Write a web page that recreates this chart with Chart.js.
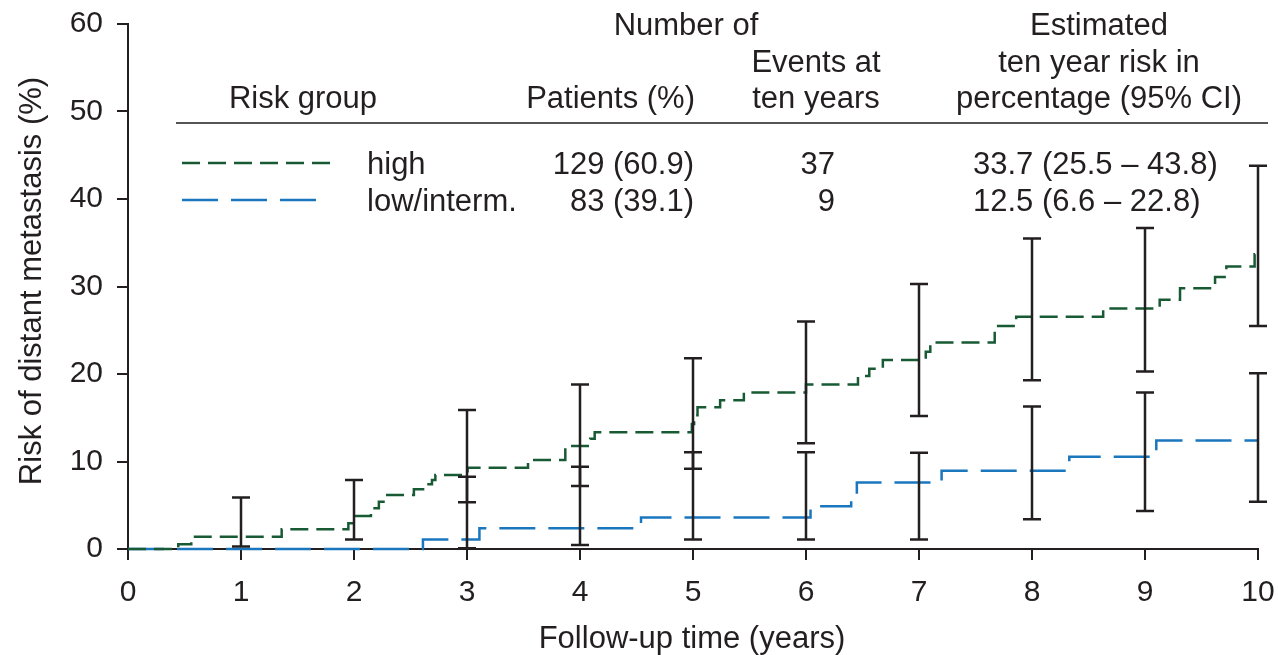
<!DOCTYPE html>
<html>
<head>
<meta charset="utf-8">
<script src="https://cdn.jsdelivr.net/npm/chart.js@4.4.1/dist/chart.umd.min.js"></script>
<style>
  html, body { margin: 0; padding: 0; background: #fff; }
  #wrap { width: 1278px; height: 655px; }
</style>
</head>
<body>
<div id="wrap"><canvas id="chart" width="1278" height="655"></canvas></div>
<script>
// step curves (time of step in years, cumulative risk in %)
const highTimes = [0, 0.445, 0.56, 1.36, 1.95, 2.02, 2.15, 2.22, 2.28, 2.53, 2.64, 2.69, 2.72, 3.005, 3.54, 3.87, 4.09, 4.13, 4.99, 5.01, 5.04, 5.24, 5.45, 6.0, 6.46, 6.56, 6.68, 7.06, 7.1, 7.67, 7.86, 8.63, 9.13, 9.31, 9.62, 9.72, 9.97, 10];
const highRisk  = [0, 0.53, 1.4, 2.25, 2.93, 3.77, 4.65, 5.4, 6.17, 6.82, 7.4, 7.9, 8.46, 9.3, 10.17, 11.77, 12.6, 13.33, 14.3, 15.3, 16.2, 17.0, 17.9, 18.8, 19.77, 20.6, 21.6, 22.55, 23.6, 25.5, 26.55, 27.5, 28.5, 29.8, 31.1, 32.3, 33.7, 33.7];

const lowTimes = [0, 2.61, 3.11, 4.54, 6.04, 6.40, 6.45, 7.2, 8.33, 9.1, 10];
const lowRisk  = [0, 1.1, 2.36, 3.6, 4.9, 6.17, 7.6, 8.95, 10.55, 12.4, 12.4];

// 95% CI bars at whole years
const ciYears   = [1, 2, 3, 4, 5, 6, 7, 8, 9, 10];
const highLower = [0.3, 1.1, 5.33, 7.2, 9.18, 12.1, 15.2, 19.3, 20.3, 25.5];
const highUpper = [5.9, 7.9, 15.9, 18.8, 21.8, 26.0, 30.3, 35.5, 36.7, 43.8];
const lowLower  = [null, null, 0.1, 0.46, 1.1, 1.1, 1.1, 3.4, 4.34, 5.4];
const lowUpper  = [null, null, 8.26, 9.4, 11.05, 11.05, 11.0, 16.3, 17.9, 20.1];

const xTicks = [0, 1, 2, 3, 4, 5, 6, 7, 8, 9, 10];
const yTicks = [0, 10, 20, 30, 40, 50, 60];

// table next to the curves
const groups   = ["high", "low/interm."];
const patients = ["129 (60.9)", "83 (39.1)"];
const events   = ["37", "9"];
const tenYear  = ["33.7 (25.5 \u2013 43.8)", "12.5 (6.6 \u2013 22.8)"];

const INK = "#231f20";
const GREEN = "#175a34";
const BLUE = "#1a76bd";
const FONT = "'Liberation Sans', Arial, Helvetica, sans-serif";

function pts(xs, ys){
  return xs.map((x, i) => ({x: x, y: ys[i]}));
}

function txt(ctx, s, x, y, align){
  ctx.textAlign = align;
  ctx.fillText(s, x, y);
}

const ciPlugin = {
  id: "ci",
  afterDatasetsDraw(chart){
    const ctx = chart.ctx, xs = chart.scales.x, ys = chart.scales.y;
    ctx.save();
    ctx.strokeStyle = INK;
    ctx.lineWidth = 2.5;
    ctx.setLineDash([]);
    const bar = (t, lo, hi) => {
      if (lo == null || hi == null) return;
      const x = xs.getPixelForValue(t), y1 = ys.getPixelForValue(lo), y2 = ys.getPixelForValue(hi);
      ctx.beginPath();
      ctx.moveTo(x, y1); ctx.lineTo(x, y2);
      ctx.moveTo(x - 9, y1); ctx.lineTo(x + 9, y1);
      ctx.moveTo(x - 9, y2); ctx.lineTo(x + 9, y2);
      ctx.stroke();
    };
    ciYears.forEach((t, i) => {
      bar(t, highLower[i], highUpper[i]);
      bar(t, lowLower[i], lowUpper[i]);
    });
    ctx.restore();
  },
  afterDraw(chart){
    const ctx = chart.ctx;
    ctx.save();
    ctx.fillStyle = INK;
    ctx.font = "31px " + FONT;
    ctx.textBaseline = "alphabetic";

    // header
    txt(ctx, "Number of", 686, 35, "center");
    txt(ctx, "Estimated", 1099, 35, "center");
    txt(ctx, "Events at", 816, 72, "center");
    txt(ctx, "ten year risk in", 1099, 72, "center");
    txt(ctx, "Risk group", 303, 108, "center");
    txt(ctx, "Patients (%)", 695, 108, "right");
    txt(ctx, "ten years", 816, 108, "center");
    txt(ctx, "percentage (95% CI)", 1099, 108, "center");

    ctx.strokeStyle = "#555";
    ctx.lineWidth = 2;
    ctx.beginPath();
    ctx.moveTo(176, 123); ctx.lineTo(1268, 123);
    ctx.stroke();

    // rows
    const rowY = [174, 211];
    const lineY = [163, 200];
    const cols = [GREEN, BLUE];
    const dashes = [[18, 8], [36, 13]];
    const lineEnd = [332, 318];
    groups.forEach((g, i) => {
      ctx.strokeStyle = cols[i];
      ctx.lineWidth = 2.5;
      ctx.setLineDash(dashes[i]);
      ctx.beginPath();
      ctx.moveTo(182, lineY[i]); ctx.lineTo(lineEnd[i], lineY[i]);
      ctx.stroke();
      ctx.setLineDash([]);
      txt(ctx, g, 367, rowY[i], "left");
      txt(ctx, patients[i], 694, rowY[i], "right");
      txt(ctx, events[i], 835, rowY[i], "right");
      txt(ctx, tenYear[i], 973, rowY[i], "left");
    });

    // axis titles
    txt(ctx, "Follow-up time (years)", 692, 648, "center");
    ctx.save();
    ctx.translate(41, 281);
    ctx.rotate(-Math.PI / 2);
    ctx.textAlign = "center";
    ctx.fillText("Risk of distant metastasis (%)", 0, 0);
    ctx.restore();
    ctx.restore();
  }
};

const tickFont = {family: FONT, size: 30};

new Chart(document.getElementById("chart"), {
  type: "line",
  data: {
    datasets: [{
      label: "high",
      data: pts(highTimes, highRisk),
      borderColor: GREEN,
      borderWidth: 2.5,
      borderDash: [18, 8],
      stepped: "before",
      pointRadius: 0,
      fill: false,
      clip: false
    }, {
      label: "low/interm.",
      data: pts(lowTimes, lowRisk),
      borderColor: BLUE,
      borderWidth: 2.5,
      borderDash: [36, 13],
      stepped: "before",
      pointRadius: 0,
      fill: false,
      clip: false
    }]
  },
  options: {
    responsive: false,
    animation: false,
    devicePixelRatio: 1,
    layout: {padding: {top: 24, right: 20, left: 0, bottom: 0}},
    plugins: {legend: {display: false}, tooltip: {enabled: false}},
    scales: {
      x: {
        type: "linear",
        min: 0, max: 10,
        afterFit(s){ s.height = 106; s.paddingLeft = 0; s.paddingRight = 0; },
        afterBuildTicks(s){ s.ticks = xTicks.map(v => ({value: v})); },
        ticks: {color: INK, font: tickFont, padding: 15, maxRotation: 0},
        grid: {drawOnChartArea: false, drawTicks: true, tickLength: 11, color: INK, lineWidth: 2},
        border: {display: true, color: INK, width: 2}
      },
      y: {
        type: "linear",
        min: 0, max: 60,
        afterFit(s){ s.width = 128; s.paddingTop = 0; s.paddingBottom = 0; },
        afterBuildTicks(s){ s.ticks = yTicks.map(v => ({value: v})); },
        ticks: {color: INK, font: tickFont, padding: 14},
        grid: {drawOnChartArea: false, drawTicks: true, tickLength: 11, color: INK, lineWidth: 2},
        border: {display: true, color: INK, width: 2}
      }
    }
  },
  plugins: [ciPlugin]
});
</script>
</body>
</html>
